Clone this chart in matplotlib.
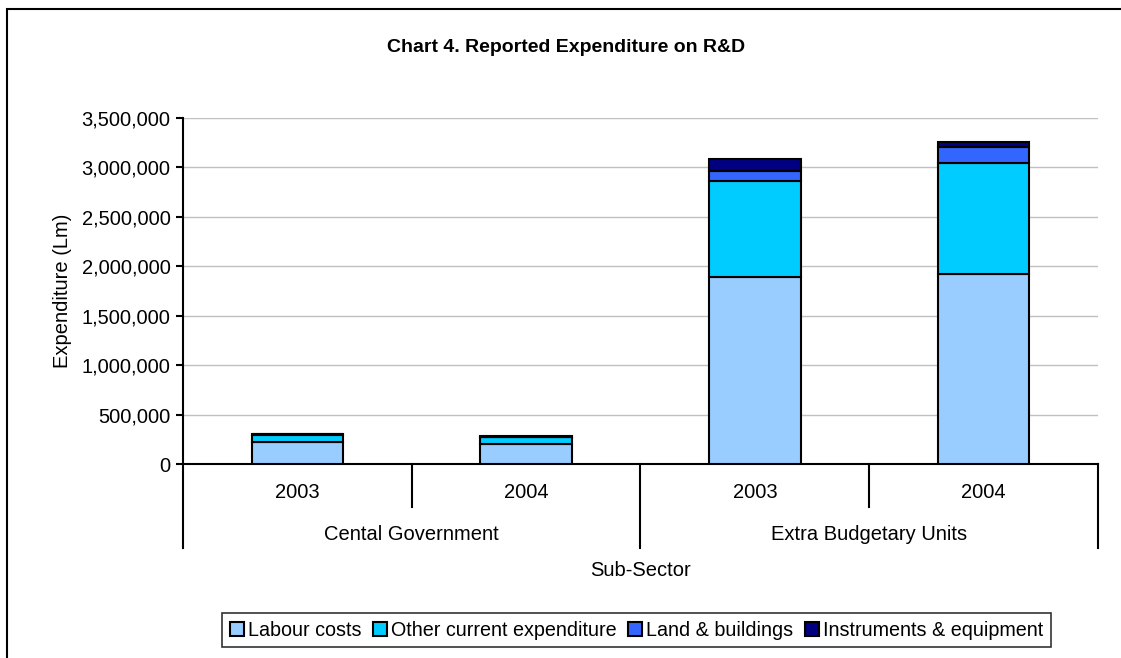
"""Chart 4: reported R&D expenditure by sub-sector and year, stacked by cost type."""
import matplotlib
matplotlib.use("Agg")
import matplotlib.pyplot as plt
from matplotlib.patches import Rectangle
from matplotlib.ticker import FuncFormatter

plt.rcParams["font.family"] = ["Liberation Sans", "DejaVu Sans"]

# data (Lm)
sectors = ["Cental Government", "Extra Budgetary Units"]
years = ["2003", "2004", "2003", "2004"]
labour = [220000, 202000, 1890000, 1922000]
other_current = [75000, 72000, 970000, 1123000]
land_buildings = [5000, 4000, 104000, 158000]
instruments = [3000, 3000, 118000, 57000]

series = [
    ("Labour costs", labour, "#99CCFF"),
    ("Other current expenditure", other_current, "#00CCFF"),
    ("Land & buildings", land_buildings, "#3366FF"),
    ("Instruments & equipment", instruments, "#000080"),
]

FS = 14.5
W, H = 1121, 658
fig = plt.figure(figsize=(W / 100, H / 100), dpi=100)

# plot area in pixels: x 183..1098, y 118..464
x0, x1, ytop, ybot = 183, 1098, 118, 464
ax = fig.add_axes([x0 / W, (H - ybot) / H, (x1 - x0) / W, (ybot - ytop) / H])

xs = [0.5, 1.5, 2.5, 3.5]
bottom = [0] * len(xs)
handles = []
for name, vals, col in series:
    b = ax.bar(xs, vals, width=0.4, bottom=bottom, color=col,
               edgecolor="black", linewidth=1.5, label=name, zorder=3)
    handles.append(b)
    bottom = [p + v for p, v in zip(bottom, vals)]

ax.set_xlim(0, 4)
ax.set_ylim(0, 3500000)
ax.set_yticks(range(0, 3500001, 500000))
ax.yaxis.set_major_formatter(FuncFormatter(lambda v, _: f"{int(v):,}"))
ax.yaxis.grid(True, color="#C0C0C0", linewidth=1, zorder=0)
ax.set_xticks([])
ax.tick_params(axis="y", direction="out", length=5, width=1.5, labelsize=FS, pad=4)
for s in ("top", "right"):
    ax.spines[s].set_visible(False)
ax.spines["left"].set_linewidth(1.5)
ax.spines["bottom"].set_linewidth(1.5)
ax.set_ylabel("Expenditure (Lm)", fontsize=FS, labelpad=7)


def ay(py):
    # pixel row -> axes fraction
    return (ybot - py) / (ybot - ytop)


tr = ax.get_xaxis_transform()
# two-level category axis
for xb in (1, 3):
    ax.plot([xb, xb], [0, ay(507)], transform=tr, color="black", lw=1.5, clip_on=False)
for xb in (0, 2, 4):
    ax.plot([xb, xb], [0, ay(548)], transform=tr, color="black", lw=1.5, clip_on=False)
for x, yr in zip(xs, years):
    ax.text(x, ay(493), yr, transform=tr, ha="center", va="center", fontsize=FS)
for i, sec in enumerate(sectors):
    ax.text(1 + 2 * i, ay(534), sec, transform=tr, ha="center", va="center", fontsize=FS)
ax.text(2, ay(570), "Sub-Sector", transform=tr, ha="center", va="center", fontsize=FS)

fig.text(566 / W, 1 - 48 / H, "Chart 4. Reported Expenditure on R&D",
         ha="center", va="center", fontsize=14, fontweight="bold")

leg = fig.legend(handles=handles, loc="center", bbox_to_anchor=(636.5 / W, 1 - 630 / H),
                 ncol=4, frameon=True, fancybox=False, fontsize=14.2,
                 handlelength=0.7, handleheight=0.7, handletextpad=0.2,
                 columnspacing=0.6, borderpad=0.4, borderaxespad=0)
leg.get_frame().set_edgecolor("black")
leg.get_frame().set_linewidth(1.2)

# outer chart frame
fig.patches.append(Rectangle((7 / W, -0.05), 1.1, 1 - 9 / H + 0.05, transform=fig.transFigure,
                             fill=False, edgecolor="black", linewidth=1.5))

fig.savefig("out.png", dpi=100)
